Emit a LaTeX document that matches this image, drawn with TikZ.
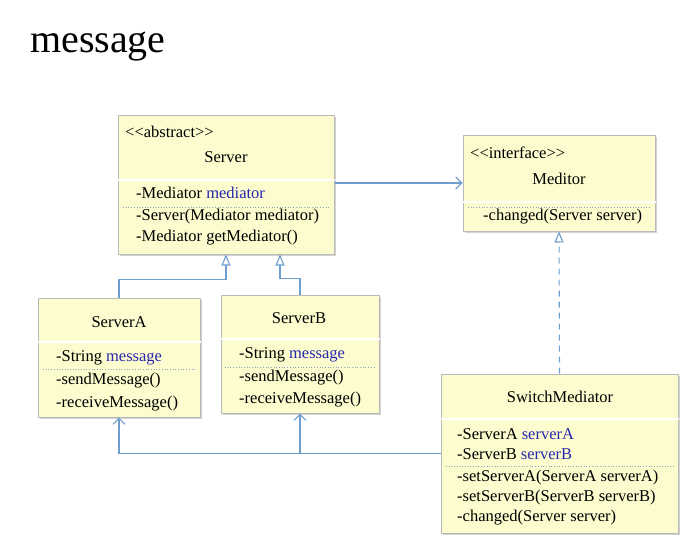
\documentclass[tikz,border=0pt]{standalone}
\usepackage{fontspec}
\setmainfont{Liberation Serif}
\usetikzlibrary{arrows.meta,positioning,shadows}
\definecolor{umlfill}{RGB}{252,252,207}
\definecolor{umledge}{RGB}{185,185,185}
\definecolor{umlline}{RGB}{110,158,205}
\definecolor{umldot}{RGB}{140,165,190}
\definecolor{umlblue}{RGB}{40,40,175}
\tikzset{
  cls/.style={rectangle, draw=umledge, fill=umlfill, line width=1pt,
    drop shadow={shadow xshift=1.5pt, shadow yshift=-1.5pt, opacity=0.35}},
  txt/.style={anchor=west, inner sep=0pt, font=\fontsize{16.5}{19}\selectfont},
  ttl/.style={inner sep=0pt, font=\fontsize{16.5}{19}\selectfont},
  hsep/.style={white, line width=1.2pt},
  dots/.style={umldot, dotted, line width=0.7pt},
  assoc/.style={umlline, line width=1.1pt, -{Straight Barb[length=6pt,width=12pt,line width=1.1pt]}},
  inherit/.style={umlline, line width=1.1pt, -{Triangle[open,length=11pt,width=9pt,fill=white]}},
  realize/.style={inherit, dash pattern=on 6pt off 5pt},
}

\begin{document}
\begin{tikzpicture}[x=1pt,y=-1pt]
\useasboundingbox (0,0) rectangle (694,549);
\node[anchor=base west, inner sep=0pt, font=\fontsize{40}{48}\selectfont] (title) at (30,52) {message};

% class boxes
\node[cls, minimum width=216pt, minimum height=139pt] (server) at (226,184.5) {};
\node[cls, minimum width=192pt, minimum height=96pt] (meditor) at (559,183) {};
\node[cls, minimum width=162pt, minimum height=119pt] (serverA) at (119,357.5) {};
\node[cls, minimum width=158pt, minimum height=118pt] (serverB) at (300,354) {};
\node[cls, minimum width=237pt, minimum height=159pt] (switch) at (559.5,453.5) {};

% Server
\node[txt] (s-st) at (125,132) {{<}{<}abstract{>}{>}};
\node[ttl] (s-nm) at (226,157) {Server};
\draw[hsep] (server.west |- 0,180) -- (server.east |- 0,180);
\node[txt] (s-a1) at (136,193) {-Mediator \textcolor{umlblue}{mediator}};
\draw[dots] (123,207) -- (330,207);
\node[txt] (s-m1) at (136,217) {-Server(Mediator mediator)};
\node[txt] (s-m2) at (136,238) {-Mediator getMediator()};

% Meditor
\node[txt] (m-st) at (470,153) {{<}{<}interface{>}{>}};
\node[ttl] (m-nm) at (559,179) {Meditor};
\draw[hsep] (meditor.west |- 0,202) -- (meditor.east |- 0,202);
\draw[dots] (468,207) -- (651,207);
\node[txt] (m-m1) at (483,217) {-changed(Server server)};

% ServerA
\node[ttl] (a-nm) at (119,322) {ServerA};
\draw[hsep] (serverA.west |- 0,342) -- (serverA.east |- 0,342);
\node[txt] (a-a1) at (56,358) {-String \textcolor{umlblue}{message}};
\draw[dots] (43,369) -- (196,369);
\node[txt] (a-m1) at (56,381) {-sendMessage()};
\node[txt] (a-m2) at (56,404) {-receiveMessage()};

% ServerB
\node[ttl] (b-nm) at (299,318) {ServerB};
\draw[hsep] (serverB.west |- 0,339) -- (serverB.east |- 0,339);
\node[txt] (b-a1) at (239,355) {-String \textcolor{umlblue}{message}};
\draw[dots] (225,367) -- (375,367);
\node[txt] (b-m1) at (239,378) {-sendMessage()};
\node[txt] (b-m2) at (239,400) {-receiveMessage()};

% SwitchMediator
\node[ttl] (w-nm) at (560,397) {SwitchMediator};
\draw[hsep] (switch.west |- 0,419) -- (switch.east |- 0,419);
\node[txt] (w-a1) at (457,434) {-ServerA \textcolor{umlblue}{serverA}};
\node[txt] (w-a2) at (457,454) {-ServerB \textcolor{umlblue}{serverB}};
\draw[dots] (446,466) -- (674,466);
\node[txt] (w-m1) at (457,478) {-setServerA(ServerA serverA)};
\node[txt] (w-m2) at (457,498) {-setServerB(ServerB serverB)};
\node[txt] (w-m3) at (457,518) {-changed(Server server)};

% connectors
\draw[assoc] (server.east |- meditor) -- (meditor.west);
\draw[inherit] (serverA.north) -- ++(0,-18) -| (server.south);
\draw[inherit] (serverB.north) -- ++(0,-16) -| ([xshift=54pt]server.south);
\draw[realize] (switch.north) -- (meditor.south);
\draw[assoc] (switch.west) -| (serverA.south);
\draw[assoc] (switch.west -| serverB.south) -- (serverB.south);
\end{tikzpicture}
\end{document}
